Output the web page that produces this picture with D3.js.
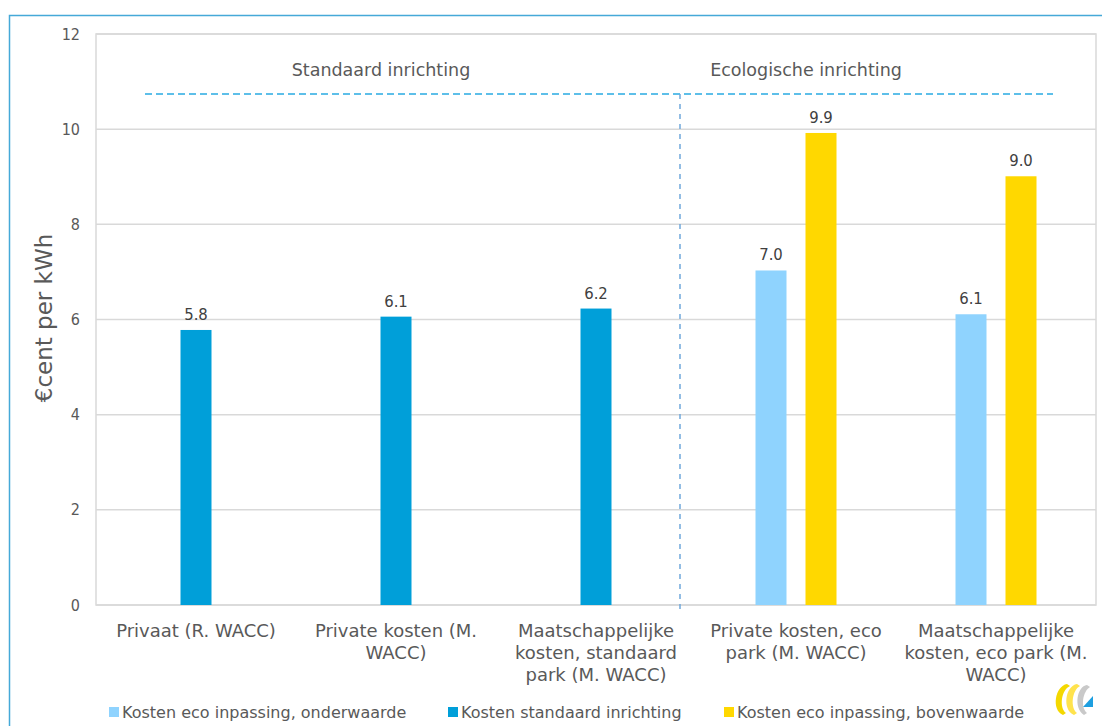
<!DOCTYPE html>
<html>
<head>
<meta charset="utf-8">
<script src="https://cdn.jsdelivr.net/npm/d3@7"></script>
<style>
body { margin: 0; background: #fff; }
text { font-family: "DejaVu Sans", sans-serif; }
</style>
</head>
<body>
<svg id="chart" width="1102" height="726"></svg>
<script>
// chart values
const categories = ["Privaat (R. WACC)", "Private kosten (M. WACC)", "Maatschappelijke kosten, standaard park (M. WACC)",
  "Private kosten, eco park (M. WACC)", "Maatschappelijke kosten, eco park (M. WACC)"];
const categoryLines = [["Privaat (R. WACC)"], ["Private kosten (M.", "WACC)"],
  ["Maatschappelijke", "kosten, standaard", "park (M. WACC)"],
  ["Private kosten, eco", "park (M. WACC)"],
  ["Maatschappelijke", "kosten, eco park (M.", "WACC)"]];
const seriesNames = ["Kosten eco inpassing, onderwaarde", "Kosten standaard inrichting", "Kosten eco inpassing, bovenwaarde"];
const onderwaarde = [null, null, null, 7.03, 6.11];
const standaard = [5.78, 6.06, 6.23, null, null];
const bovenwaarde = [null, null, null, 9.92, 9.01];
const yTicks = [0, 2, 4, 6, 8, 10, 12];
const sectionLabels = ["Standaard inrichting", "Ecologische inrichting"];
const yTitle = "€cent per kWh";

const colors = ["#8fd3fe", "#009fd9", "#ffd800"];
const seriesValues = [onderwaarde, standaard, bovenwaarde];
const cond = "\"DejaVu Sans Condensed\", \"DejaVu Sans\", sans-serif";

const svg = d3.select("#chart");
const margin = {left: 96, right: 1096, top: 34, bottom: 605};

// outer frame
svg.append("path")
  .attr("d", "M9.5,726 V15.5 H1102")
  .attr("fill", "none")
  .attr("stroke", "#45a9d8")
  .attr("stroke-width", 1.5);

const x = d3.scaleBand().domain(categories).range([margin.left, margin.right]);
const y = d3.scaleLinear().domain([0, 12]).range([margin.bottom, margin.top]);
const sub = d3.scalePoint().domain(seriesNames).range([-25, 25]);
const barW = 31;

// grid
svg.append("g")
  .selectAll("line")
  .data(yTicks)
  .join("line")
    .attr("x1", margin.left).attr("x2", margin.right)
    .attr("y1", d => y(d)).attr("y2", d => y(d))
    .attr("stroke", "#d9d9d9").attr("stroke-width", 1.5);

svg.append("rect")
  .attr("x", margin.left).attr("y", margin.top)
  .attr("width", margin.right - margin.left).attr("height", margin.bottom - margin.top)
  .attr("fill", "none").attr("stroke", "#d9d9d9").attr("stroke-width", 1.5);

// y axis labels
const yAxis = svg.append("g")
  .attr("transform", "translate(" + margin.left + ",0)")
  .call(d3.axisLeft(y).tickValues(yTicks).tickSize(0).tickPadding(16));
yAxis.select(".domain").remove();
yAxis.selectAll("text")
  .style("font-family", cond)
  .attr("font-size", 16).attr("fill", "#595959");

svg.append("text")
  .attr("transform", "translate(52,318) rotate(-90)")
  .attr("text-anchor", "middle")
  .attr("font-size", 23)
  .attr("fill", "#595959")
  .text(yTitle);

// bars
seriesNames.forEach((s, si) => {
  const rows = categories.map((c, i) => ({c: c, v: seriesValues[si][i]})).filter(d => d.v != null);
  const cx = d => x(d.c) + x.bandwidth() / 2 + (s === seriesNames[1] ? 0 : sub(s));
  svg.append("g")
    .selectAll("rect")
    .data(rows)
    .join("rect")
      .attr("x", d => cx(d) - barW / 2)
      .attr("y", d => y(d.v))
      .attr("width", barW)
      .attr("height", d => y(0) - y(d.v))
      .attr("fill", colors[si]);
  svg.append("g")
    .selectAll("text")
    .data(rows)
    .join("text")
      .attr("x", d => cx(d))
      .attr("y", d => y(d.v) - 10)
      .attr("text-anchor", "middle")
      .style("font-family", cond)
      .attr("font-size", 16.5)
      .attr("fill", "#404040")
      .text(d => d.v.toFixed(1));
});

// category labels
const xl = svg.append("g");
categories.forEach((c, i) => {
  xl.append("text")
    .attr("x", x(c) + x.bandwidth() / 2)
    .attr("y", 637)
    .attr("text-anchor", "middle")
    .attr("font-size", 18)
    .attr("fill", "#595959")
    .selectAll("tspan")
    .data(categoryLines[i])
    .join("tspan")
      .attr("x", x(c) + x.bandwidth() / 2)
      .attr("dy", (d, j) => j === 0 ? 0 : 22)
      .text(d => d);
});

// section annotations
svg.append("line")
  .attr("x1", 145).attr("x2", 1053)
  .attr("y1", y(10.74)).attr("y2", y(10.74))
  .attr("stroke", "#29abe2").attr("stroke-width", 1.5)
  .attr("stroke-dasharray", "7,4");
svg.append("line")
  .attr("x1", 680).attr("x2", 680)
  .attr("y1", y(10.74)).attr("y2", 613)
  .attr("stroke", "#6fa8dc").attr("stroke-width", 1.5)
  .attr("stroke-dasharray", "5,5");
svg.append("text").attr("x", 381).attr("y", 76).attr("text-anchor", "middle")
  .attr("font-size", 17.5).attr("fill", "#595959").text(sectionLabels[0]);
svg.append("text").attr("x", 806).attr("y", 76).attr("text-anchor", "middle")
  .attr("font-size", 17.5).attr("fill", "#595959").text(sectionLabels[1]);

// legend
const legendX = [109, 448, 724];
const lg = svg.append("g");
seriesNames.forEach((s, i) => {
  lg.append("rect").attr("x", legendX[i]).attr("y", 707).attr("width", 10).attr("height", 10).attr("fill", colors[i]);
  lg.append("text").attr("x", legendX[i] + 13).attr("y", 718)
    .attr("font-size", 16).attr("fill", "#595959").text(s);
});

// logo
const logo = svg.append("g").attr("transform", "translate(1053,682)");
logo.append("path").attr("d", "M14,2 C2,4 -2,28 10,33 L13,31 C6,26 8,8 17,4 Z").attr("fill", "#f4d800");
logo.append("path").attr("d", "M24,2 C12,4 9,28 21,33 L24,31 C17,26 19,8 27,4 Z").attr("fill", "#ffe34d");
logo.append("path").attr("d", "M34,3 C24,4 20,26 31,33 L34,31 C27,25 30,9 37,5 Z").attr("fill", "#c9c9c9");
logo.append("path").attr("d", "M40,14 L40,25 L30,25 Z").attr("fill", "#1e9fe0");
</script>
</body>
</html>
